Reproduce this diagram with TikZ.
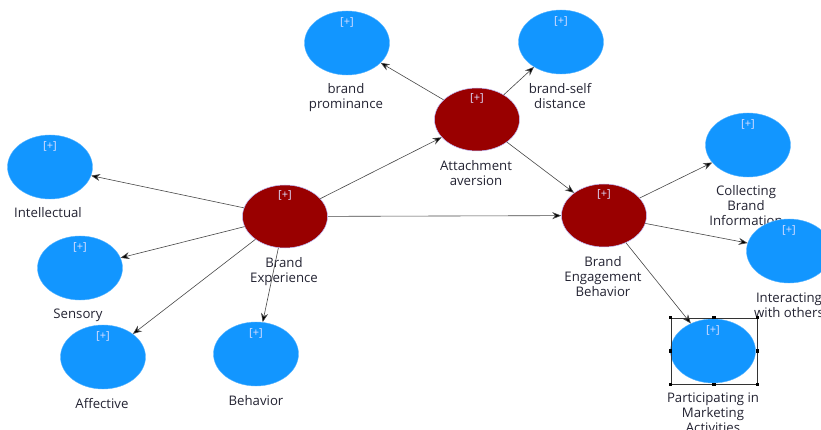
\documentclass[tikz,border=0pt]{standalone}
\usepackage{fontspec}
\setmainfont{Open Sans}
\usetikzlibrary{shapes.geometric,arrows.meta}
\definecolor{lvblue}{RGB}{18,150,255}
\definecolor{lvred}{RGB}{153,0,0}
\definecolor{txt}{RGB}{35,35,50}
\tikzset{
 lv/.style={ellipse, minimum width=85pt, minimum height=64pt, inner sep=0pt, fill=lvblue, draw=lvblue!70!white, line width=0.4pt},
 cv/.style={ellipse, minimum width=85pt, minimum height=63pt, inner sep=0pt, fill=lvred, draw=blue!25!white, line width=0.5pt},
 plus/.style={text=white!88!blue, font=\fontsize{11}{13}\selectfont, inner sep=0pt},
 lab/.style={text=txt, font=\fontsize{13.2}{15}\selectfont, align=center, inner sep=0pt},
 arr/.style={draw=black!72, line width=0.6pt, -{Stealth[length=9pt,width=7pt,fill=black]}},
 handle/.style={fill=black, minimum size=3.4pt, inner sep=0pt}
}
\begin{document}
\begin{tikzpicture}[x=1pt,y=-1pt]
\useasboundingbox (0,0) rectangle (821,430);
% labels
\node[lab] (tBP) at (346,97.5) {brand\\prominance};
\node[lab] (tBS) at (560,96.5) {brand-self\\distance};
\node[lab] (tAA) at (476,173.5) {Attachment\\aversion};
\node[lab] (tIN) at (48,213) {Intellectual};
\node[lab] (tBE) at (284,271.5) {Brand\\Experience};
\node[lab] (tSE) at (78,315) {Sensory};
\node[lab] (tAF) at (102,404) {Affective};
\node[lab] (tBH) at (256,401) {Behavior};
\node[lab] (tEB) at (603,277) {Brand\\Engagement\\Behavior};
\node[lab] (tCB) at (746,206) {Collecting\\Brand\\Information};
\node[lab] (tIO) at (789,305.5) {Interacting\\with others};
\node[lab] (tPM) at (713,413) {Participating in\\Marketing\\Activities};
% ellipses
\node[lv] (BP) at (347,43) {};
\node[lv] (BS) at (561,42) {};
\node[cv] (AA) at (477,119.5) {};
\node[lv] (IN) at (50,167) {};
\node[cv] (BE) at (285,216.5) {};
\node[lv] (SE) at (80,268) {};
\node[lv] (AF) at (103,357) {};
\node[lv] (BH) at (256,354) {};
\node[cv] (EB) at (604,215.5) {};
\node[lv] (CB) at (748,145) {};
\node[lv] (IO) at (789,251) {};
\node[lv] (PM) at (713,351) {};
% [+] marks
\foreach \n in {BP,BS,AA,IN,BE,SE,AF,BH,EB,CB,IO,PM}
  \node[plus] (p\n) at ([yshift=21pt]\n.center) {[+]};
% connectors
\draw[arr] (BE) -- (IN);
\draw[arr] (BE) -- (SE);
\draw[arr] (BE) -- (AF);
\draw[arr] (BE) -- (BH);
\draw[arr] (BE) -- (AA);
\draw[arr] (BE) -- (EB);
\draw[arr] (AA) -- (BP);
\draw[arr] (AA) -- (BS);
\draw[arr] (AA) -- (EB);
\draw[arr] (EB) -- (CB);
\draw[arr] (EB) -- (IO);
\draw[arr] (EB) -- (PM);
% selection box
\node[draw=black!80, line width=0.6pt, minimum width=86pt, minimum height=66pt, inner sep=0pt] (sel) at (714,351) {};
\foreach \a in {north west,north,north east,east,south east,south,south west,west}
  \node[handle] at (sel.\a) {};
\end{tikzpicture}
\end{document}
